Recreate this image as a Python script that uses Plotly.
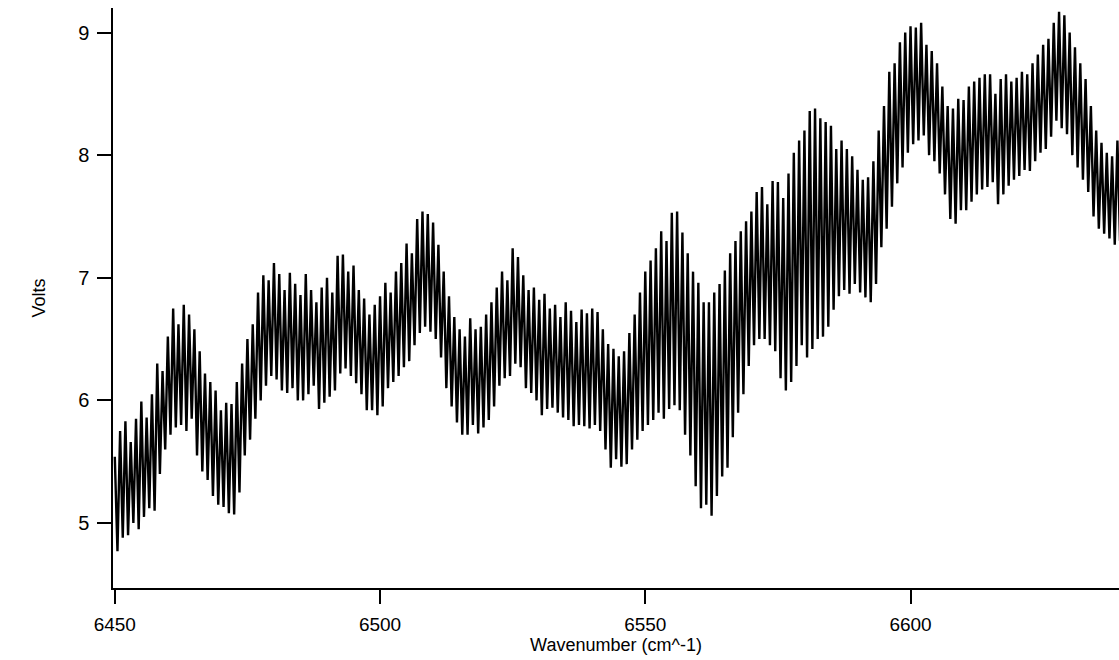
import plotly.graph_objects as go

# Wavenumber grid (cm^-1): spike tips read at integer wavenumbers, troughs half-way between
WN_START = 6450
N_POINTS = 190

# Upper spike tips (Volts) at 6450, 6451, ... 6639
peaks = [
    5.54, 5.75, 5.83, 5.66, 5.85, 5.99, 5.86, 6.05, 6.30, 6.24,
    6.52, 6.75, 6.62, 6.78, 6.70, 6.58, 6.40, 6.22, 6.15, 6.08,
    5.92, 5.98, 5.97, 6.15, 6.30, 6.50, 6.62, 6.88, 7.02, 6.98,
    7.12, 7.03, 6.90, 7.04, 6.95, 6.86, 7.03, 6.90, 6.80, 6.92,
    7.00, 6.88, 7.18, 7.19, 7.05, 7.10, 6.90, 6.83, 6.70, 6.78,
    6.85, 6.96, 6.88, 7.05, 7.12, 7.28, 7.20, 7.48, 7.54, 7.52,
    7.45, 7.27, 7.05, 6.85, 6.68, 6.58, 6.52, 6.67, 6.58, 6.60,
    6.70, 6.80, 6.92, 7.05, 6.98, 7.24, 7.17, 7.02, 6.90, 6.92,
    6.82, 6.87, 6.75, 6.78, 6.68, 6.80, 6.73, 6.64, 6.74, 6.71,
    6.75, 6.72, 6.58, 6.46, 6.42, 6.36, 6.40, 6.55, 6.70, 6.88,
    7.05, 7.14, 7.24, 7.38, 7.30, 7.53, 7.54, 7.37, 7.20, 7.05,
    6.96, 6.80, 6.80, 6.88, 6.95, 7.06, 7.20, 7.30, 7.38, 7.46,
    7.54, 7.70, 7.74, 7.60, 7.79, 7.78, 7.65, 7.85, 8.02, 8.12,
    8.20, 8.36, 8.38, 8.30, 8.27, 8.24, 8.05, 8.12, 8.05, 7.99,
    7.88, 7.80, 7.82, 7.95, 8.20, 8.40, 8.68, 8.75, 8.92, 9.00,
    9.05, 9.04, 9.08, 8.90, 8.85, 8.75, 8.56, 8.40, 8.38, 8.46,
    8.45, 8.56, 8.60, 8.63, 8.66, 8.66, 8.50, 8.62, 8.66, 8.60,
    8.63, 8.68, 8.66, 8.75, 8.82, 8.90, 8.95, 9.08, 9.17, 9.14,
    9.00, 8.88, 8.75, 8.62, 8.40, 8.20, 8.10, 8.02, 7.99, 8.12,
]

# Lower spike tips (Volts) at 6450.5, 6451.5, ... 6639.5
troughs = [
    4.77, 4.88, 4.90, 5.00, 4.95, 5.05, 5.12, 5.10, 5.40, 5.60,
    5.72, 5.78, 5.80, 5.75, 5.85, 5.55, 5.42, 5.35, 5.22, 5.15,
    5.13, 5.08, 5.07, 5.25, 5.55, 5.68, 5.85, 6.00, 6.12, 6.20,
    6.17, 6.08, 6.06, 6.10, 6.00, 6.00, 6.05, 6.12, 5.93, 5.98,
    6.03, 6.08, 6.22, 6.26, 6.20, 6.14, 6.05, 5.92, 5.92, 5.88,
    5.95, 6.10, 6.15, 6.20, 6.27, 6.32, 6.45, 6.55, 6.60, 6.56,
    6.50, 6.35, 6.10, 5.95, 5.82, 5.72, 5.72, 5.80, 5.73, 5.78,
    5.84, 5.95, 6.12, 6.18, 6.20, 6.30, 6.27, 6.10, 6.06, 6.00,
    5.88, 5.93, 5.94, 5.90, 5.86, 5.84, 5.79, 5.80, 5.79, 5.77,
    5.80, 5.75, 5.60, 5.45, 5.52, 5.46, 5.48, 5.60, 5.68, 5.75,
    5.80, 5.84, 5.90, 5.85, 5.93, 5.96, 5.92, 5.72, 5.55, 5.30,
    5.12, 5.15, 5.06, 5.22, 5.38, 5.45, 5.70, 5.90, 6.05, 6.28,
    6.45, 6.50, 6.50, 6.45, 6.40, 6.18, 6.08, 6.15, 6.28, 6.45,
    6.35, 6.42, 6.50, 6.52, 6.60, 6.74, 6.85, 6.90, 6.87, 6.95,
    6.88, 6.84, 6.80, 6.95, 7.25, 7.40, 7.58, 7.77, 7.90, 8.02,
    8.09, 8.12, 8.16, 8.00, 7.95, 7.85, 7.68, 7.48, 7.44, 7.55,
    7.55, 7.62, 7.68, 7.72, 7.74, 7.78, 7.60, 7.68, 7.75, 7.80,
    7.83, 7.88, 7.87, 7.95, 8.02, 8.05, 8.15, 8.28, 8.22, 8.17,
    8.00, 7.90, 7.80, 7.70, 7.50, 7.40, 7.36, 7.32, 7.27, 7.30,
]

x_ticks = [6450, 6500, 6550, 6600]
y_ticks = [5, 6, 7, 8, 9]

# interleave tips into one spectrum trace
wn, volts = [], []
for i in range(N_POINTS):
    wn.append(WN_START + i)
    volts.append(peaks[i])
    wn.append(WN_START + i + 0.5)
    volts.append(troughs[i])

FONT = "Liberation Sans, Arial, Helvetica, sans-serif"

fig = go.Figure(
    go.Scatter(
        x=wn, y=volts, mode="lines",
        line=dict(color="black", width=2.4),
        hoverinfo="skip", showlegend=False,
    )
)

fig.update_layout(
    width=1119, height=660,
    margin=dict(l=113, r=0, t=8, b=72),
    paper_bgcolor="white", plot_bgcolor="white",
    font=dict(family=FONT, color="black", size=19),
)

fig.update_xaxes(
    range=[6449.66, 6639.3],
    tickvals=x_ticks, ticktext=[str(v) for v in x_ticks],
    ticks="outside", ticklen=14, tickwidth=1.5, tickcolor="black",
    showline=True, linecolor="black", linewidth=1.5,
    showgrid=False, zeroline=False,
    tickfont=dict(size=19), ticklabelstandoff=4,
    title=dict(text="Wavenumber (cm^-1)", font=dict(size=18), standoff=1),
)
fig.update_yaxes(
    range=[4.47, 9.2],
    tickvals=y_ticks, ticktext=[str(v) for v in y_ticks],
    ticks="outside", ticklen=14, tickwidth=1.5, tickcolor="black",
    showline=True, linecolor="black", linewidth=1.5,
    showgrid=False, zeroline=False,
    tickfont=dict(size=20), ticklabelstandoff=4,
    title=dict(text="Volts", font=dict(size=18), standoff=28),
)

fig.write_html("out.html")
